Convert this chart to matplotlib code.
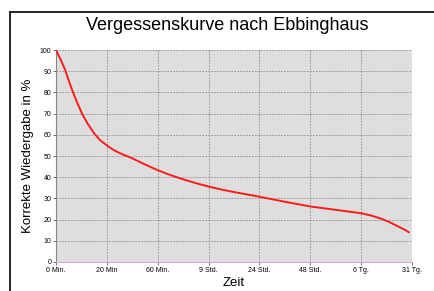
import matplotlib
matplotlib.use("Agg")
import matplotlib.pyplot as plt
from matplotlib.lines import Line2D

plt.rcParams['font.family'] = ['Liberation Sans', 'DejaVu Sans']

tick_labels = ["0 Min.", "20 Min", "60 Min.", "9 Std.", "24 Std.", "48 Std.", "6 Tg.", "31 Tg."]
curve_pos = [0, 0.1, 0.18, 0.25, 0.33, 0.42, 0.51, 0.62, 0.75, 0.87, 1.0, 1.12, 1.25, 1.5,
             1.75, 2.0, 2.25, 2.5, 2.75, 3.0, 3.25, 3.5, 3.75, 4.0, 4.25, 4.5, 4.75, 5.0,
             5.25, 5.5, 5.75, 6.0, 6.2, 6.4, 6.55, 6.7, 6.85, 6.94]
curve_val = [100, 95, 90.6, 85.6, 80.3, 75.0, 70.1, 65.3, 60.7, 57.4, 55.0, 53.0, 51.4, 48.9,
             46.0, 43.3, 41.0, 39.0, 37.2, 35.6, 34.2, 33.0, 31.9, 30.8, 29.6, 28.4, 27.3, 26.2,
             25.4, 24.6, 23.8, 23.0, 21.9, 20.4, 18.9, 17.1, 15.3, 14.0]
y_ticks = list(range(0, 101, 10))

W, H = 435, 291
fig = plt.figure(figsize=(W / 100, H / 100), dpi=100)
ax = fig.add_axes([56 / W, 1 - 262 / H, (412 - 56) / W, (262 - 50) / H])
ax.set_facecolor('#dedede')

ax.plot(curve_pos, curve_val, color='#ff1a1a', lw=1.4, solid_capstyle='round',
        solid_joinstyle='round', zorder=3)

ax.set_xlim(0, 7)
ax.set_ylim(0, 100)
ax.set_xticks(range(len(tick_labels)))
ax.set_xticklabels(tick_labels, fontsize=5)
ax.set_yticks(y_ticks)
ax.set_yticklabels([str(v) for v in y_ticks], fontsize=5)
ax.tick_params(axis='both', length=2, width=0.6, colors='#555555', labelcolor='black', pad=1.5)

ax.grid(True, color='#8c8c8c', linestyle=(0, (2, 1.5)), linewidth=0.6, zorder=1)
ax.set_axisbelow(True)

for s in ['top', 'right']:
    ax.spines[s].set_visible(False)
ax.spines['left'].set_color('#888888')
ax.spines['left'].set_linewidth(0.8)
ax.spines['bottom'].set_color('#d9a8cf')
ax.spines['bottom'].set_linewidth(0.8)

ax.set_ylabel("Korrekte Wiedergabe in %", fontsize=9.5, labelpad=4)
ax.set_xlabel("Zeit", fontsize=9.5, labelpad=2)
fig.text(227 / W, 1 - 26 / H, "Vergessenskurve nach Ebbinghaus", ha='center', va='center', fontsize=13)

# outer frame (left and top edges)
fig.add_artist(Line2D([10 / W, 10 / W], [0, 1 - 12 / H], color='black', lw=1.2, transform=fig.transFigure))
fig.add_artist(Line2D([10 / W, 1], [1 - 12 / H, 1 - 12 / H], color='black', lw=1.2, transform=fig.transFigure))

fig.savefig("out.png", dpi=100)
